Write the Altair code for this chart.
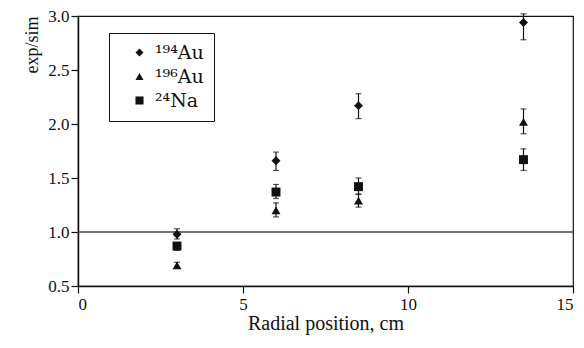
import altair as alt
import pandas as pd

positions = [3, 6, 8.5, 13.5]
series_names = ["¹⁹⁴Au", "¹⁹⁶Au", "²⁴Na"]
shapes = ["diamond", "triangle-up", "square"]

au194 = [0.98, 1.66, 2.17, 2.94]
au194_lo = [0.935, 1.57, 2.05, 2.78]
au194_hi = [1.03, 1.74, 2.28, 3.02]

au196 = [0.69, 1.20, 1.29, 2.02]
au196_lo = [0.67, 1.14, 1.23, 1.91]
au196_hi = [0.72, 1.27, 1.35, 2.14]

na24 = [0.87, 1.37, 1.42, 1.67]
na24_lo = [0.83, 1.31, 1.35, 1.57]
na24_hi = [0.90, 1.44, 1.50, 1.77]

rows = []
for name, vals, lo, hi in zip(series_names, [au194, au196, na24],
                              [au194_lo, au196_lo, na24_lo],
                              [au194_hi, au196_hi, na24_hi]):
    for x, v, l, h in zip(positions, vals, lo, hi):
        rows.append({"pos": x, "val": v, "lo": l, "hi": h, "series": name})
df = pd.DataFrame(rows)

FONT = "Liberation Serif"
LEGEND_FONT = "DejaVu Serif"

xenc = alt.X("pos:Q", scale=alt.Scale(domain=[0, 15], nice=False),
             axis=alt.Axis(values=[0, 5, 10, 15], title="Radial position, cm",
                           grid=False, tickSize=7, labelPadding=3, titlePadding=1,
                           titleFontSize=20))
yscale = alt.Scale(domain=[0.5, 3.0], nice=False)

base = alt.Chart(df)

points = base.mark_point(filled=True, opacity=1, color="#111111").encode(
    x=xenc,
    y=alt.Y("val:Q", scale=yscale,
            axis=alt.Axis(values=[0.5, 1.0, 1.5, 2.0, 2.5, 3.0], format=".1f",
                          title="exp/sim", grid=False, tickSize=7,
                          titleAnchor="end", titlePadding=6)),
    shape=alt.Shape("series:N",
                    scale=alt.Scale(domain=series_names, range=shapes),
                    legend=alt.Legend(title=None, orient="none", legendX=31, legendY=17,
                                      strokeColor="#111111", padding=10,
                                      labelFont=LEGEND_FONT, labelFontSize=19,
                                      labelColor="#111111",
                                      symbolFillColor="#111111",
                                      symbolStrokeColor="#111111",
                                      symbolSize=65, rowPadding=4,
                                      labelOffset=6, symbolOffset=11)),
    size=alt.value(80),
)

bars = base.mark_rule(color="#111111", strokeWidth=1.2).encode(
    x="pos:Q", y=alt.Y("lo:Q", scale=yscale), y2="hi:Q")
cap_lo = base.mark_tick(color="#111111", thickness=1.2, size=6, orient="horizontal").encode(
    x="pos:Q", y=alt.Y("lo:Q", scale=yscale))
cap_hi = base.mark_tick(color="#111111", thickness=1.2, size=6, orient="horizontal").encode(
    x="pos:Q", y=alt.Y("hi:Q", scale=yscale))

ref = alt.Chart(pd.DataFrame({"r": [1.0]})).mark_rule(color="#444444", strokeWidth=1.5).encode(
    y=alt.Y("r:Q", scale=yscale))

chart = alt.layer(ref, bars, cap_lo, cap_hi, points).properties(
    width=495, height=270,
    autosize=alt.AutoSizeParams(type="none"),
    padding={"left": 78, "top": 16, "right": 11, "bottom": 62},
    background="white",
).configure_view(stroke="#111111", strokeWidth=1.2).configure_axis(
    domainColor="#111111", domainWidth=1.5, tickColor="#111111", tickWidth=1.2,
    labelFont=FONT, titleFont=FONT, labelFontSize=17, titleFontSize=18,
    labelColor="#111111", titleColor="#111111", titleFontWeight="normal",
)

chart.save("out.html", embed_options={"renderer": "svg", "actions": False})
